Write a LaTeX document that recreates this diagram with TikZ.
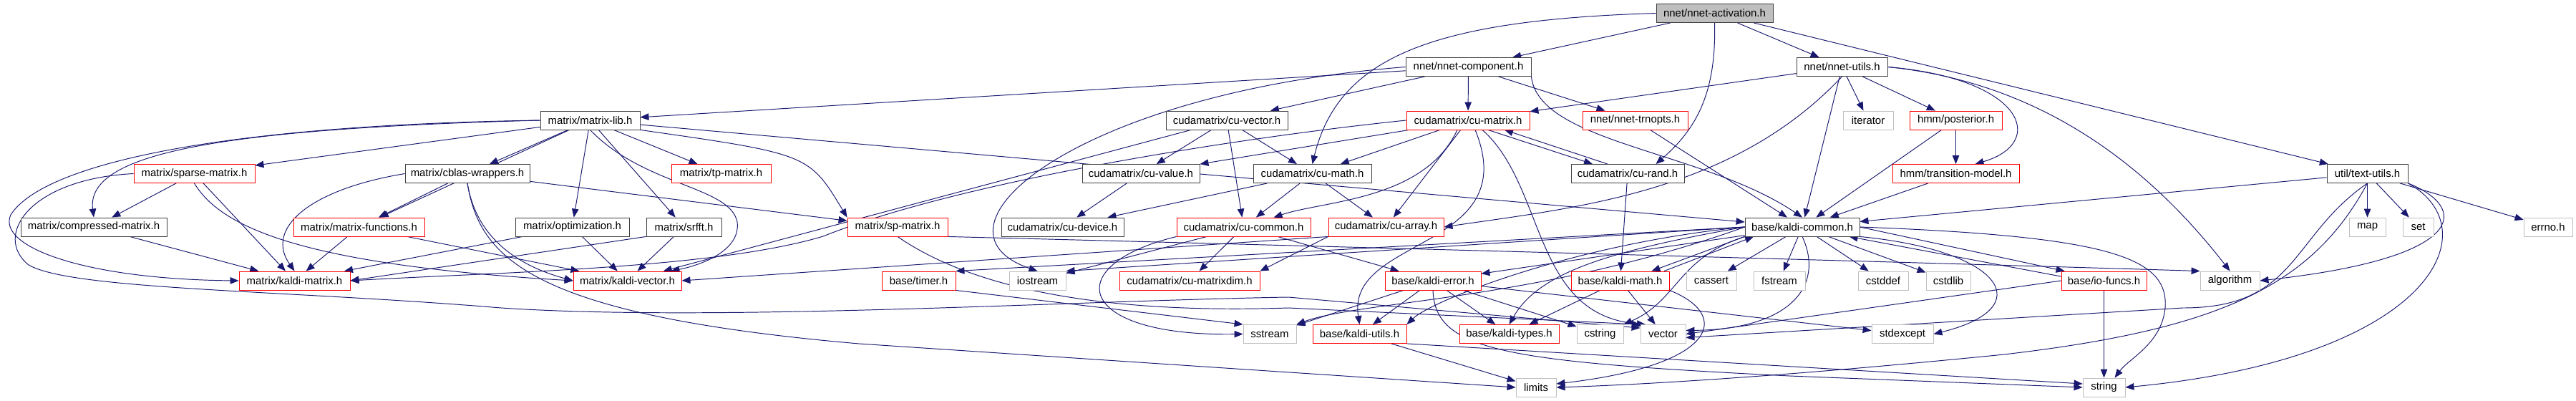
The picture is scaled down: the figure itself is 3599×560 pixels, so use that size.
\documentclass[tikz,border=0pt]{standalone}
\usepackage{fontspec}
\setmainfont{Liberation Sans}
\usetikzlibrary{arrows.meta,backgrounds}
\definecolor{edgeblue}{RGB}{25,25,112}
\definecolor{sysgrey}{RGB}{191,191,191}
\definecolor{boxedge}{RGB}{64,64,64}
\definecolor{rootgrey}{RGB}{191,191,191}
\newcommand{\pxcm}{0.02}
% box from left edge #3 to right edge #4 (pixels), centre height #5
\newcommand{\hnode}[6][]{\node[hfile,#1,minimum width={(#4-#3)*\pxcm cm}] (#2) at ({(#3+#4)/2},#5) {#6};}

\begin{document}
\begin{tikzpicture}[x=0.02cm,y=-0.02cm,
	hfile/.style={draw=boxedge,fill=white,line width=0.5pt,minimum height=0.52cm,
		inner sep=0pt,font=\fontsize{8.5}{10}\selectfont},
	part/.style={draw=red},
	sys/.style={draw=sysgrey},
	root/.style={fill=rootgrey},
	dep/.style={draw=edgeblue,line width=0.55pt,-{Triangle[length=0.24cm,width=0.19cm]}}]
	\useasboundingbox (0,0) rectangle (3599,560);
	
	\hnode[root]{act}{2314}{2477}{18.5}{nnet/nnet-activation.h}
	
	\hnode{comp}{1964}{2139}{93.5}{nnet/nnet-component.h}
	\hnode{nutil}{2510}{2637}{93.5}{nnet/nnet-utils.h}
	
	\hnode{mlib}{755}{894}{168}{matrix/matrix-lib.h}
	\hnode{cuvec}{1629}{1799}{168}{cudamatrix/cu-vector.h}
	\hnode[part]{cumat}{1965}{2137}{168}{cudamatrix/cu-matrix.h}
	\hnode[part]{trn}{2211}{2358}{168}{nnet/nnet-trnopts.h}
	\hnode[sys]{iter}{2575}{2645}{168}{iterator}
	\hnode[part]{post}{2668}{2797}{168}{hmm/posterior.h}
	
	\hnode[part]{spm}{187}{356}{242.5}{matrix/sparse-matrix.h}
	\hnode{cblas}{566}{740}{242.5}{matrix/cblas-wrappers.h}
	\hnode[part]{tpm}{938}{1077}{242.5}{matrix/tp-matrix.h}
	\hnode{cuval}{1512}{1676}{242.5}{cudamatrix/cu-value.h}
	\hnode{cumath}{1751}{1916}{242.5}{cudamatrix/cu-math.h}
	\hnode{curand}{2195}{2353}{242.5}{cudamatrix/cu-rand.h}
	\hnode[part]{trans}{2644}{2821}{242.5}{hmm/transition-model.h}
	\hnode{tutil}{3251}{3364}{242.5}{util/text-utils.h}
	
	\hnode{cmp}{29}{233}{317}{matrix/compressed-matrix.h}
	\hnode[part]{mfun}{410}{593}{317}{matrix/matrix-functions.h}
	\hnode{opt}{720}{879}{317}{matrix/optimization.h}
	\hnode{srfft}{903}{1008}{317}{matrix/srfft.h}
	\hnode[part]{sppm}{1184}{1324}{317}{matrix/sp-matrix.h}
	\hnode{cudev}{1399}{1570}{317}{cudamatrix/cu-device.h}
	\hnode[part]{cucom}{1644}{1831}{317}{cudamatrix/cu-common.h}
	\hnode[part]{cuarr}{1856}{2017}{317}{cudamatrix/cu-array.h}
	\hnode{kcom}{2438}{2598}{317}{base/kaldi-common.h}
	\hnode[sys]{map}{3282}{3333}{317}{map}
	\hnode[sys]{set}{3357}{3400}{317}{set}
	\hnode[sys]{errno}{3526}{3594}{317}{errno.h}
	
	\hnode[part]{kmat}{334}{489}{392}{matrix/kaldi-matrix.h}
	\hnode[part]{kvec}{801}{952}{392}{matrix/kaldi-vector.h}
	\hnode[part]{timer}{1232}{1335}{392}{base/timer.h}
	\hnode[sys]{iostr}{1410}{1489}{392}{iostream}
	\hnode[part]{cumd}{1564}{1760}{392}{cudamatrix/cu-matrixdim.h}
	\hnode[part]{kerr}{1935}{2069}{392}{base/kaldi-error.h}
	\hnode[part]{kmath}{2195}{2332}{392}{base/kaldi-math.h}
	\hnode[sys]{cassert}{2356}{2426}{392}{cassert}
	\hnode[sys]{fstr}{2450}{2522}{392}{fstream}
	\hnode[sys]{cstddef}{2596}{2666}{392}{cstddef}
	\hnode[sys]{cstdlib}{2691}{2753}{392}{cstdlib}
	\hnode[part]{iof}{2880}{2999}{392}{base/io-funcs.h}
	\hnode[sys]{algo}{3074}{3157}{392}{algorithm}
	
	\hnode[sys]{sstr}{1737}{1811}{466.5}{sstream}
	\hnode[part]{kutil}{1834}{1965}{466.5}{base/kaldi-utils.h}
	\hnode[part]{ktyp}{2039}{2178}{466.5}{base/kaldi-types.h}
	\hnode[sys]{cstring}{2203}{2268}{466.5}{cstring}
	\hnode[sys]{vector}{2292}{2355}{466.5}{vector}
	\hnode[sys]{stdexc}{2615}{2701}{466.5}{stdexcept}
	
	\hnode[sys]{limits}{2118}{2174}{541}{limits}
	\hnode[sys]{string}{2910}{2969}{541}{string}
	
	\begin{scope}[on background layer]
	\fill[white] (0,0) rectangle (3599,560);
	% nnet
	\foreach \dst in {comp,nutil,tutil} \draw[dep] (act) -- (\dst);
	\draw[dep] (act.west) .. controls (2000,28) and (1870,80) .. (cumath.north);
	\draw[dep] (act.south) .. controls (2398,130) and (2370,180) .. ([xshift=-0.8cm]curand.north east);
	\foreach \dst in {mlib,cuvec,cumat,trn} \draw[dep] (comp) -- (\dst);
	\draw[dep] (comp.south east) .. controls (2150,200) and (2380,210) .. (kcom.north);
	\draw[dep] (comp.west) .. controls (1500,130) and (1280,320) .. (iostr.north);
	\foreach \dst in {cumat,kcom,iter,post} \draw[dep] (nutil) -- (\dst);
	\draw[dep] (nutil.south) .. controls (2420,270) and (2200,290) .. (cuarr.east);
	\draw[dep] (nutil.east) .. controls (2830,110) and (2860,200) .. ([xshift=0.54cm]trans.north);
	\draw[dep] (nutil.east) .. controls (2850,115) and (3000,230) .. (algo.north);
	\draw[dep] (post) -- (trans);
	\draw[dep] ([xshift=-0.4cm]post.south) -- (kcom);
	\foreach \src in {trans,trn,tutil} \draw[dep] (\src) -- (kcom);
	% text-utils
	\foreach \dst in {map,set,errno} \draw[dep] (tutil) -- (\dst);
	\draw[dep] (tutil.south) .. controls (3200,330) and (3210,430) .. (3050,430) -- ([yshift=-0.1cm]vector.east);
	\draw[dep] (tutil.south) .. controls (3230,400) and (3100,460) .. (2800,495) .. controls (2500,525) and (2300,537) .. (limits.east);
	\draw[dep] (tutil.south east) .. controls (3450,290) and (3450,360) .. (algo.east);
	\draw[dep] (tutil.south east) .. controls (3480,320) and (3400,500) .. (string.east);
	% matrix
	\foreach \dst in {spm,cblas,mfun,opt,srfft,tpm,kcom} \draw[dep] (mlib) -- (\dst);
	\draw[dep] (mlib.west) .. controls (300,180) and (120,215) .. (cmp.north);
	\draw[dep] (mlib.west) .. controls (300,175) and (60,230) .. (15,300) .. controls (-5,345) and (120,390) .. (kmat.west);
	\draw[dep] (mlib.south) .. controls (900,260) and (1020,260) .. (1030,310) .. controls (1035,350) and (980,370) .. ([xshift=-0.3cm]kvec.north east);
	\draw[dep] (mlib.south east) .. controls (1130,215) .. (sppm.north west);
	\foreach \dst in {cmp,kmat} \draw[dep] (spm) -- (\dst);
	\draw[dep] (spm.south) .. controls (310,320) and (430,370) .. (kvec.west);
	\draw[dep] (spm.west) .. controls (40,250) and (-10,330) .. (40,370) .. controls (100,405) and (400,405) .. (700,430) .. controls (1000,450) and (1500,420) .. (1800,415) -- ([yshift=-0.1cm]vector.north west);
	\foreach \dst in {mfun,sppm} \draw[dep] (cblas) -- (\dst);
	\draw[dep] (cblas.west) .. controls (430,265) and (370,320) .. (kmat.north);
	\draw[dep] (cblas.south) .. controls (665,330) and (720,370) .. (kvec.west);
	\draw[dep] (cblas.south) .. controls (670,360) and (740,440) .. (1200,480) -- (limits.west);
	\foreach \src in {mfun,cmp,opt} \draw[dep] (\src) -- (kmat);
	\draw[dep] (srfft.south west) -- (kmat.east);
	\foreach \src in {mfun,opt,srfft} \draw[dep] (\src) -- (kvec);
	\draw[dep] (sppm.south east) .. controls (1900,345) and (2800,370) .. (algo.north west);
	\draw[dep] (sppm.south) .. controls (1340,390) and (1500,440) .. (1800,430) -- (vector.north west);
	% cudamatrix
	\foreach \dst in {cuval,cucom,cumath,kvec} \draw[dep] (cuvec) -- (\dst);
	\foreach \dst in {cuval,cumath,cuarr} \draw[dep] (cumat) -- (\dst);
	\draw[dep] ([xshift=-0.3cm]cumat.south) .. controls (1990,280) and (1850,280) .. ([xshift=0.84cm]cucom.north);
	\draw[dep] (cumat.west) .. controls (1750,190) and (1350,250) .. (1150,330) .. controls (1000,375) and (700,380) .. (kmat.east);
	\draw[dep] ([xshift=0.2cm]cumat.south) .. controls (2130,350) and (1880,330) .. (kutil.north);
	\draw[dep] ([xshift=0.4cm]cumat.south) .. controls (2160,260) and (2140,440) .. ([xshift=0.15cm]vector.north west);
	\draw[dep] ([xshift=0.56cm]cumat.south) -- ([xshift=-0.98cm]curand.north);
	\draw[dep] ([xshift=-0.56cm]curand.north) -- ([xshift=1.02cm]cumat.south);
	\draw[dep] (curand) -- (kmath);
	\draw[dep] (cuval) -- (cudev);
	\foreach \dst in {cudev,cucom,cuarr} \draw[dep] (cumath) -- (\dst);
	\foreach \dst in {iostr,cumd,kerr} \draw[dep] (cucom) -- (\dst);
	\draw[dep] (cucom.south west) .. controls (1480,370) and (1500,470) .. (sstr.west);
	\draw[dep] (cuarr.south west) -- (kvec.east);
	\draw[dep] (cuarr.south west) -- (cumd.north east);
	% base
	\foreach \dst in {cassert,fstr,cstddef,cstdlib,kerr} \draw[dep] (kcom) -- (\dst);
	\draw[dep] (kcom.west) -- (iostr.north east);
	\draw[dep] (kcom.west) -- (timer.north east);
	\draw[dep] (kcom.west) .. controls (2150,420) and (1900,420) .. (sstr.north east);
	\draw[dep] (kcom.west) .. controls (2200,340) and (2000,420) .. (kutil.north east);
	\draw[dep] (kcom.west) .. controls (2250,350) and (2150,380) .. (ktyp.north);
	\draw[dep] (kcom.south west) .. controls (2344,360) and (2344,420) .. (cstring.north east);
	\draw[dep] (kcom.south) .. controls (2550,400) and (2500,460) .. ([yshift=0.1cm]vector.east);
	\draw[dep] (kcom.south east) .. controls (2800,350) and (2850,430) .. (stdexc.east);
	\draw[dep] (kcom.east) .. controls (2950,330) and (3030,360) .. (3025,430) .. controls (3020,480) and (2975,500) .. ([xshift=0.3cm]string.north);
	\draw[dep] (kcom.east) -- ([xshift=0.1cm]iof.north west);
	\draw[dep] ([yshift=-0.15cm]iof.north west) -- ([xshift=-0.3cm]kcom.south east);
	\draw[dep] (kcom.south west) -- ([xshift=-0.5cm]kmath.north east);
	\draw[dep] ([xshift=-0.15cm]kmath.north east) -- ([xshift=0.25cm]kcom.south west);
	\foreach \dst in {ktyp,vector} \draw[dep] (kmath) -- (\dst);
	\draw[dep] (kmath.south east) .. controls (2420,440) and (2400,510) .. ([yshift=0.1cm]limits.east);
	\draw[dep] (iof) -- (string);
	\draw[dep] (iof.west) -- (vector.east);
	\foreach \dst in {sstr,kutil,ktyp,cstring,stdexc} \draw[dep] (kerr) -- (\dst);
	\draw[dep] (kerr.south) .. controls (2005,490) and (2100,505) .. (2500,525) -- (string.west);
	\draw[dep] (kutil) -- (limits);
	\draw[dep] (kutil.south east) -- ([yshift=0.1cm]string.west);
	\draw[dep] (timer.south east) -- (sstr.north west);
	\end{scope}
\end{tikzpicture}
\end{document}
